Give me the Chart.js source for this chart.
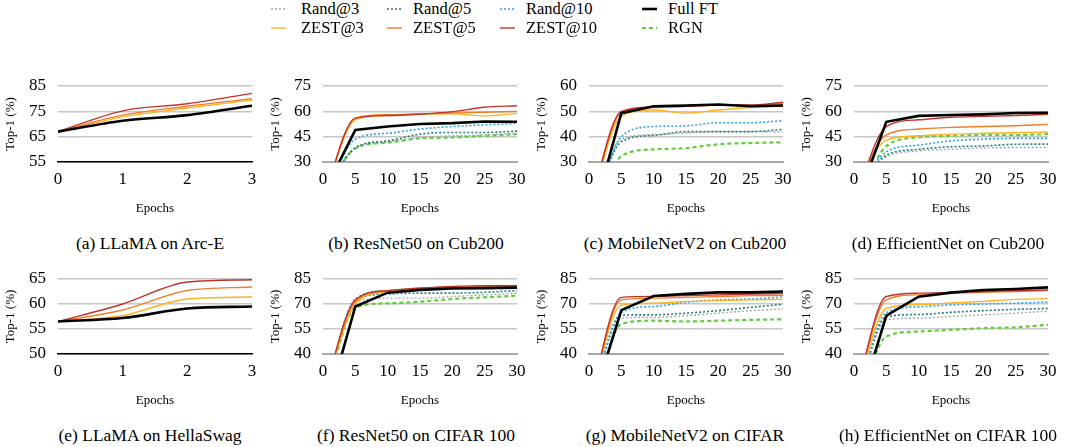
<!DOCTYPE html>
<html>
<head>
<meta charset="utf-8">
<script src="https://cdn.jsdelivr.net/npm/chart.js@4.4.1/dist/chart.umd.min.js"></script>
<style>
body { margin: 0; background: #fff; width: 1065px; height: 447px; position: relative; overflow: hidden;
       font-family: 'Liberation Serif', 'Times New Roman', serif; color: #000; }
canvas { position: absolute; }
.lg { position: absolute; height: 20px; line-height: 20px; font-size: 16.5px; white-space: nowrap; }
.lg svg { position: absolute; left: 0; top: 0; }
.lg span { position: absolute; top: 0; }
.cap { position: absolute; width: 300px; text-align: center; font-size: 17.5px; line-height: 20px; white-space: nowrap; }
</style>
</head>
<body>
<script>
// x values
const epochsLlama = [0, 1, 2, 3];
const epochs = [0, 5, 10, 15, 20, 25, 30];

// (a) LLaMA on Arc-E
const arcE_full   = [67, 71.3, 73.5, 77.2];
const arcE_zest3  = [67, 72.8, 76.3, 79.5];
const arcE_zest5  = [67, 73.5, 77, 80];
const arcE_zest10 = [67, 75.2, 78, 82.1];

// (e) LLaMA on HellaSwag
const hella_full   = [56.5, 57.2, 59.1, 59.5];
const hella_zest3  = [56.5, 57.7, 61, 61.4];
const hella_zest5  = [56.5, 58.8, 62.7, 63.4];
const hella_zest10 = [56.5, 60, 64.4, 64.85];

// (b) ResNet50 on Cub200
const cubRes_full   = [11, 49, 51, 52.5, 53, 54, 53.8];
const cubRes_zest3  = [8, 55, 57.5, 58.5, 58.5, 57.3, 58.8];
const cubRes_zest5  = [8, 56, 58, 58.5, 59, 59.5, 60];
const cubRes_zest10 = [8, 56, 57.5, 58.3, 59.8, 62.4, 63.3];
const cubRes_rand3  = [10, 38, 42, 44.5, 45.5, 46, 47];
const cubRes_rand5  = [10, 38.5, 42.5, 46.5, 47.5, 47.5, 48.3];
const cubRes_rand10 = [8, 43.5, 47, 49.5, 51, 52, 52.9];
const cubRes_rgn    = [10, 38, 41.5, 44, 44.5, 45.5, 46.5];

// (c) MobileNetV2 on Cub200
const cubMob_full   = [3, 49.3, 52, 52.3, 52.7, 52, 52.3];
const cubMob_zest3  = [11, 48, 50.5, 49.3, 50.5, 51.5, 52];
const cubMob_zest5  = [11, 49.5, 51.5, 52, 52.5, 52.3, 53];
const cubMob_zest10 = [12, 50, 51.8, 52, 52.5, 52.5, 53.6];
const cubMob_rand3  = [4, 39, 40.8, 41.5, 42, 42, 41.8];
const cubMob_rand5  = [4, 38, 40.5, 42, 42, 42, 42.9];
const cubMob_rand10 = [3, 40, 44, 44.3, 45.5, 45.5, 46.3];
const cubMob_rgn    = [0, 32.3, 35, 35.5, 37, 37.5, 37.8];

// (d) EfficientNet on Cub200
const cubEff_full   = [2, 53.8, 57.3, 57.8, 58.2, 59, 59.2];
const cubEff_zest3  = [13, 43, 45.5, 46.5, 47, 47.3, 47.8];
const cubEff_zest5  = [12, 46, 49.5, 50.5, 51, 51.5, 52.3];
const cubEff_zest10 = [7, 51, 55, 56.5, 57, 57.5, 58.2];
const cubEff_rand3  = [14, 33, 36.5, 37.5, 38.3, 38.5, 38.7];
const cubEff_rand5  = [14, 34, 37.5, 39, 39.5, 40.5, 40.6];
const cubEff_rand10 = [12, 36, 40, 42.5, 43.5, 44, 44];
const cubEff_rgn    = [2, 39.4, 44.6, 45.5, 46, 46, 46.5];

// (f) ResNet50 on CIFAR 100
const cifRes_full   = [0, 68.5, 76.8, 78.5, 79.3, 79.5, 79.8];
const cifRes_zest3  = [15, 70, 77.5, 79, 79.8, 80, 80.5];
const cifRes_zest5  = [15, 71.5, 78, 79.5, 80, 80.5, 80.8];
const cifRes_zest10 = [15, 72.5, 78, 79.5, 80.5, 81, 81];
const cifRes_rand3  = [12, 71, 73.5, 73.5, 74.5, 75.5, 76.5];
const cifRes_rand5  = [12, 72, 76, 76.5, 76.5, 77, 78];
const cifRes_rand10 = [12, 73, 78, 79.5, 80, 80.5, 81];
const cifRes_rgn    = [10, 67.8, 70.4, 71.4, 73, 74, 75];

// (g) MobileNetV2 on CIFAR
const cifMob_full   = [4, 66.3, 74.8, 76.1, 77, 77, 77.5];
const cifMob_zest3  = [10, 69.3, 70.5, 71.5, 72, 72.5, 72.8];
const cifMob_zest5  = [10, 72.5, 73.5, 74, 74.5, 75, 75.2];
const cifMob_zest10 = [10, 74, 74.6, 75, 75.5, 76, 76.2];
const cifMob_rand3  = [6, 61.5, 62, 63, 64.5, 66, 67];
const cifMob_rand5  = [6, 63.3, 63.5, 64.5, 66, 68, 69.8];
const cifMob_rand10 = [6, 65, 68.5, 71, 72.5, 73, 74.2];
const cifMob_rgn    = [0, 58, 60, 59.5, 60, 60.5, 60.8];

// (h) EfficientNet on CIFAR 100
const cifEff_full   = [0, 63, 74.4, 76.8, 78.4, 79, 80];
const cifEff_zest3  = [10, 67.3, 69.6, 70.6, 71.6, 72.8, 73.2];
const cifEff_zest5  = [12, 72.5, 75.5, 76.5, 77, 77.5, 78];
const cifEff_zest10 = [12, 74.5, 76.5, 77, 77.5, 78, 78.4];
const cifEff_rand3  = [6, 60.4, 61.5, 62.5, 63.5, 64.5, 65.7];
const cifEff_rand5  = [6, 62.3, 63.7, 65, 66, 66.8, 67.3];
const cifEff_rand10 = [6, 64.9, 68.3, 69.5, 70, 70.5, 71.2];
const cifEff_rgn    = [0, 50.5, 53.5, 54.5, 55.5, 56, 57.5];

// y tick ranges [min, max, step]
const yArcE = [55, 85, 10];
const yHella = [50, 65, 5];
const yCub = [30, 75, 15];
const yCubMob = [30, 60, 10];
const yCifar = [40, 85, 15];

const FONT = "'Liberation Serif', 'Times New Roman', serif";

const styles = {
    full:   { label: 'Full FT',  color: '#000000', width: 2.6, dash: [] },
    zest10: { label: 'ZEST@10', color: '#c0332a', width: 1.4, dash: [] },
    zest5:  { label: 'ZEST@5',  color: '#f07d2a', width: 1.4, dash: [] },
    zest3:  { label: 'ZEST@3',  color: '#ffb21e', width: 1.4, dash: [] },
    rand10: { label: 'Rand@10', color: '#2aa4f0', width: 1.6, dash: [2, 2] },
    rand5:  { label: 'Rand@5',  color: '#1f7b78', width: 1.6, dash: [2, 2] },
    rand3:  { label: 'Rand@3',  color: '#a8a8a8', width: 1.4, dash: [2, 2] },
    rgn:    { label: 'RGN',     color: '#5fce3a', width: 2.2, dash: [4, 3] }
};

// plot-area boxes
const cols = [[58, 252], [323, 517], [589, 783], [854, 1048]];
const rows = [[86, 162], [279, 354]];

const panels = [
    { col: 0, row: 0, llm: true, x: epochsLlama, y: yArcE, caption: '(a) LLaMA on Arc-E',
      series: { full: arcE_full, zest10: arcE_zest10, zest5: arcE_zest5, zest3: arcE_zest3 } },
    { col: 1, row: 0, x: epochs, y: yCub, caption: '(b) ResNet50 on Cub200',
      series: { full: cubRes_full, zest10: cubRes_zest10, zest5: cubRes_zest5, zest3: cubRes_zest3,
                rand10: cubRes_rand10, rand5: cubRes_rand5, rand3: cubRes_rand3, rgn: cubRes_rgn } },
    { col: 2, row: 0, x: epochs, y: yCubMob, caption: '(c) MobileNetV2 on Cub200',
      series: { full: cubMob_full, zest10: cubMob_zest10, zest5: cubMob_zest5, zest3: cubMob_zest3,
                rand10: cubMob_rand10, rand5: cubMob_rand5, rand3: cubMob_rand3, rgn: cubMob_rgn } },
    { col: 3, row: 0, x: epochs, y: yCub, caption: '(d) EfficientNet on Cub200',
      series: { full: cubEff_full, zest10: cubEff_zest10, zest5: cubEff_zest5, zest3: cubEff_zest3,
                rand10: cubEff_rand10, rand5: cubEff_rand5, rand3: cubEff_rand3, rgn: cubEff_rgn } },
    { col: 0, row: 1, llm: true, x: epochsLlama, y: yHella, caption: '(e) LLaMA on HellaSwag',
      series: { full: hella_full, zest10: hella_zest10, zest5: hella_zest5, zest3: hella_zest3 } },
    { col: 1, row: 1, x: epochs, y: yCifar, caption: '(f) ResNet50 on CIFAR 100',
      series: { full: cifRes_full, zest10: cifRes_zest10, zest5: cifRes_zest5, zest3: cifRes_zest3,
                rand10: cifRes_rand10, rand5: cifRes_rand5, rand3: cifRes_rand3, rgn: cifRes_rgn } },
    { col: 2, row: 1, x: epochs, y: yCifar, caption: '(g) MobileNetV2 on CIFAR',
      series: { full: cifMob_full, zest10: cifMob_zest10, zest5: cifMob_zest5, zest3: cifMob_zest3,
                rand10: cifMob_rand10, rand5: cifMob_rand5, rand3: cifMob_rand3, rgn: cifMob_rgn } },
    { col: 3, row: 1, x: epochs, y: yCifar, caption: '(h) EfficientNet on CIFAR 100',
      series: { full: cifEff_full, zest10: cifEff_zest10, zest5: cifEff_zest5, zest3: cifEff_zest3,
                rand10: cifEff_rand10, rand5: cifEff_rand5, rand3: cifEff_rand3, rgn: cifEff_rgn } }
];

const captionCenters = [150, 416, 685, 948];
const captionRows = [243, 435];

// tick padding makes Chart.js reserve label room, so leave enough around the plot
const Y_AXIS_W = 58, X_AXIS_H = 54, PAD_TOP = 24, PAD_RIGHT = 17;

function drawPanel(p) {
    const [left, right] = cols[p.col];
    const [top, bottom] = rows[p.row];
    const canvas = document.createElement('canvas');
    canvas.width = right - left + Y_AXIS_W + PAD_RIGHT;
    canvas.height = bottom - top + PAD_TOP + X_AXIS_H;
    canvas.style.left = (left - Y_AXIS_W) + 'px';
    canvas.style.top = (top - PAD_TOP) + 'px';
    document.body.appendChild(canvas);

    const datasets = Object.keys(p.series).map(key => {
        const st = styles[key];
        const straight = key === 'full' && !p.llm;
        return {
            label: st.label,
            data: p.series[key].map((v, i) => ({ x: p.x[i], y: v })),
            borderColor: st.color,
            borderWidth: st.width,
            borderDash: st.dash,
            pointRadius: 0,
            fill: false,
            tension: straight ? 0 : 0.4,
            cubicInterpolationMode: straight ? 'default' : 'monotone'
        };
    });

    const xMax = p.x[p.x.length - 1];
    new Chart(canvas.getContext('2d'), {
        type: 'line',
        data: { datasets },
        options: {
            responsive: false,
            animation: false,
            devicePixelRatio: 1,
            layout: { padding: { top: PAD_TOP, right: PAD_RIGHT, left: 0, bottom: 0 } },
            plugins: { legend: { display: false }, tooltip: { enabled: false } },
            scales: {
                x: {
                    type: 'linear', min: 0, max: xMax,
                    grid: { display: false, drawTicks: false },
                    border: { display: true, color: p.llm ? '#000000' : '#a8a8a8', width: p.llm ? 1.5 : 2 },
                    ticks: { stepSize: p.llm ? 1 : 5, padding: 7, maxRotation: 0, autoSkip: false, color: '#000',
                             font: { family: FONT, size: 17 } },
                    title: { display: true, text: 'Epochs', color: '#000', padding: 0,
                             font: { family: FONT, size: 13 } },
                    afterFit: s => { s.height = X_AXIS_H; }
                },
                y: {
                    min: p.y[0], max: p.y[1],
                    grid: { color: '#c6c6c6', lineWidth: 1.5, drawTicks: false },
                    border: { display: false },
                    ticks: { stepSize: p.y[2], padding: 12, autoSkip: false, color: '#000',
                             font: { family: FONT, size: 17 } },
                    title: { display: true, text: 'Top-1 (%)', color: '#000', padding: { top: 3, bottom: 0 },
                             font: { family: FONT, size: 13 } },
                    afterFit: s => { s.width = Y_AXIS_W; }
                }
            }
        }
    });

    const cap = document.createElement('div');
    cap.className = 'cap';
    cap.textContent = p.caption;
    cap.style.left = (captionCenters[p.col] - 150) + 'px';
    cap.style.top = (captionRows[p.row] - 10) + 'px';
    document.body.appendChild(cap);
}

panels.forEach(drawPanel);

// Legend
const legendLayout = [
    { key: 'rand3', x: 271, tx: 301, row: 9 },
    { key: 'rand5', x: 387, tx: 413, row: 9 },
    { key: 'rand10', x: 500, tx: 526, row: 9 },
    { key: 'full', x: 642, tx: 668, row: 9 },
    { key: 'zest3', x: 271, tx: 301, row: 28 },
    { key: 'zest5', x: 387, tx: 413, row: 28 },
    { key: 'zest10', x: 500, tx: 526, row: 28 },
    { key: 'rgn', x: 642, tx: 668, row: 28 }
];

legendLayout.forEach(item => {
    const st = styles[item.key];
    const div = document.createElement('div');
    div.className = 'lg';
    div.style.left = item.x + 'px';
    div.style.top = (item.row - 10) + 'px';
    const dash = st.dash.length ? ` stroke-dasharray="${st.dash.join(',')}"` : '';
    div.innerHTML = `<svg width="15" height="20"><line x1="0" y1="10" x2="15" y2="10" stroke="${st.color}" stroke-width="${st.width}"${dash}/></svg>` +
        `<span style="left:${item.tx - item.x}px">${st.label}</span>`;
    document.body.appendChild(div);
});
</script>
</body>
</html>
